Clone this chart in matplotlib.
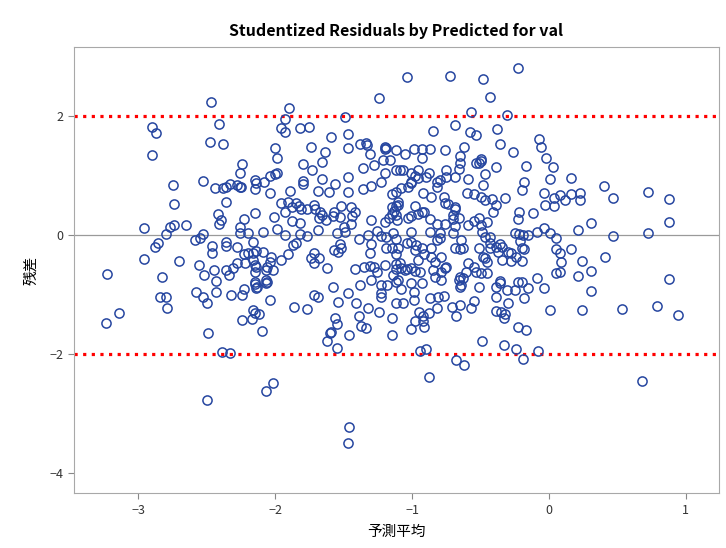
import matplotlib
matplotlib.use("Agg")
import matplotlib.pyplot as plt
import numpy as np

plt.rcParams['font.family'] = ['Noto Sans CJK JP', 'DejaVu Sans']

# predicted mean (x) and studentized residual (y), one entry per observation
predicted = [
    -2.47, -2.90, -2.87, -2.90, -2.41, -2.48, -2.38, -2.75, -2.53, -2.44, -2.38, -2.36, -2.33,
    -3.23, -3.24, -3.14, -2.96, -2.74, -2.77, -2.74, -2.80, -2.65, -2.86, -2.88, -2.96, -2.70,
    -2.83, -2.84, -2.80, -2.79, -2.59, -2.55, -2.53, -2.56, -2.52, -2.58, -2.53, -2.50, -2.49,
    -2.46, -2.46, -2.45, -2.43, -2.43, -2.32, -2.42, -2.40, -2.41, -2.36, -2.36, -2.36, -2.36,
    -2.34, -2.31, -2.28, -2.28,
    -2.39, -2.33, -2.50,
    -1.62, -1.55, -2.02, -2.07, -1.46, -1.47,
    -0.94, -0.90, -0.88, -0.68, -0.62, -0.49, -0.33, -0.24, -0.19, -0.08,
    0.68, 0.16, 0.40,
    0.08, 0.12, 0.16, 0.23, 0.23, 0.47, 0.72, 0.88, 0.88, 0.31, 0.21, 0.47, 0.72, 0.08, 0.16,
    0.09, 0.24, 0.41, 0.08, 0.21, 0.31, 0.31, 0.88, 0.24, 0.53, 0.79, 0.94,
    -1.24, -1.90, -1.49, -1.93, -1.96, -1.93, -1.82, -1.75, -1.59, -1.47, -1.74, -1.47, -2.00,
    -1.99, -1.64, -1.38, -1.34, -1.33, -1.31, -1.20, -1.20, -1.19, -1.12, -1.21, -1.16, -2.24,
    -2.26, -1.80, -1.66, -1.28, -1.36, -1.73, -1.12, -1.20, -2.04, -2.00, -1.99, -2.15, -2.14,
    -2.08, -1.80, -1.80, -1.66, -1.47, -1.56, -1.23, -1.30, -1.36, -2.28, -2.26, -2.25, -2.15,
    -1.89, -1.69, -1.61, -1.47, -1.15, -2.04,
    -1.96, -1.91, -1.88, -1.85, -1.83, -1.81, -1.77, -1.72, -1.71, -1.67, -1.66, -1.93, -2.01,
    -2.15, -2.23, -2.26, -2.26, -2.20, -2.09, -1.99, -1.88, -1.82, -1.93, -1.82, -1.77, -1.69,
    -1.68, -1.63, -1.58, -1.57, -1.53, -1.52, -1.45, -1.42, -1.44, -1.55, -1.50, -1.45, -1.49,
    -1.30, -1.20, -1.17, -1.15, -1.13, -1.15, -1.12, -1.39, -1.32, -1.26, -1.23, -1.19, -1.12,
    -1.14, -2.16, -2.23, -2.20, -2.16, -2.14, -2.09, -2.22, -2.16, -2.15, -2.14, -2.15, -2.03,
    -2.04, -2.06, -2.02, -2.07, -1.96, -1.91, -1.87, -1.85, -1.74, -1.72, -1.72, -1.68, -1.62,
    -1.57, -1.53, -1.54, -1.52, -1.42, -1.35, -1.31, -1.28, -1.26, -1.31, -1.30, -1.19, -1.15,
    -1.12, -1.20, -1.12, -1.12, -1.30, -1.23, -1.18, -1.23, -1.23, -1.12, -1.12, -1.38, -1.58,
    -1.47, -1.54, -1.41, -1.32, -1.24, -1.15, -1.39, -1.37, -1.34, -1.56, -1.55, -1.59, -1.60,
    -1.46, -1.15, -1.72, -1.69, -1.86, -1.77, -2.15, -2.14, -2.13, -2.15, -2.07, -2.07, -2.06,
    -2.23, -2.24, -2.04, -2.16, -2.15, -2.12, -2.24, -2.17, -2.10,
    -1.04, -0.72, -0.48, -0.23, -0.43, -0.57, -0.31, -0.85, -0.69, -0.58, -0.53, -0.38, -0.36,
    -0.62, -0.76, -0.87, -0.93, -0.93, -0.99, -1.05, -0.65, -0.65, -0.53, -0.50, -0.50, -0.51,
    -0.26, -0.07, -0.06, -0.02, 0.03, -0.17, -0.39, -0.47, -0.59, -0.48, -0.66, -0.69, -0.75,
    -0.75, -0.80, -0.82, -0.82, -0.88, -0.90, -0.96, -0.98, -0.96, -1.01, -1.01, -1.01, -1.03,
    -1.09, -1.07, -1.08, -0.18, 0.01,
    -1.12, -1.10, -1.10, -1.12, -0.92, -0.86, -0.77, -0.76, -0.74, -0.69, -0.69, -0.70, -0.60,
    -0.55, -0.50, -0.47, -0.42, -0.39, -0.41, -0.32, -0.20, -0.04, 0.04, 0.04, -0.03, -0.12,
    -0.22, -0.23, -0.98, -0.93, -0.91, -0.96, -1.01, -1.03, -1.11, -0.87, -0.82, -0.76, -0.69,
    -0.70, -0.66, -0.59, -0.55, -0.51, -0.50, -0.45, -1.01, -0.87, -0.80, -0.80, -0.82, -0.70,
    -0.49, -0.47, -0.43, -0.43, -0.25, -0.22, -0.19, -0.15, -0.21, -0.09, -0.04, 0.01, 0.05,
    -1.10, -1.04, -1.01, -0.97, -0.98, -0.93, -0.91, -0.86, -0.86, -0.83, -0.79, -0.75, -0.69,
    -0.65, -0.63, -0.64, -0.59, -0.55, -0.51, -0.48, -0.47, -0.45, -0.43, -0.39, -0.36, -0.37,
    -0.34, -0.30, -0.28, -0.34, -0.28, -0.24, -0.20, -0.20, -0.18, 0.05, 0.05, -1.09, -1.08,
    -1.05, -1.04, -1.01, -0.98, -0.96, -0.94, -0.85, -0.83, -0.79, -0.79, -0.76, -0.61, -0.65,
    -0.63, -0.66, -0.65, -0.64, -0.53, -0.50, -0.45, -0.51, -0.36, -0.36, -0.39, -0.31, -0.25,
    -0.23, -0.20, -0.15, -0.09, -0.04, -1.14, -1.10, -1.08, -1.01, -0.93, -1.07, -0.99, -0.99,
    -0.87, -0.81, -0.77, -0.71, -0.65, -0.68, -0.57, -0.55, -0.39, -0.30, -0.18, -0.39, -0.35,
    -0.32, -0.33, -0.82, -0.88, -0.92, -0.95, -0.98, -0.92, -0.91, -1.01, -0.23, -0.17, 0.01,
]
residual = [
    2.24, 1.82, 1.72, 1.35, 1.87, 1.57, 1.53, 0.84, 0.91, 0.79, 0.79, 0.81, 0.86,
    -0.66, -1.48, -1.31, 0.12, 0.52, 0.13, 0.17, 0.02, 0.17, -0.13, -0.20, -0.40, -0.44,
    -0.71, -1.04, -1.04, -1.23, -0.08, -0.05, 0.02, -0.51, -0.67, -0.96, -1.04, -1.14, -1.65,
    -0.19, -0.30, -0.59, -0.77, -0.96, -1.01, 0.35, 0.25, 0.19, 0.56, -0.12, -0.19, -0.59,
    -0.67, -0.56, -0.20, -0.47,
    -1.97, -1.99, -2.78,
    -1.78, -1.90, -2.49, -2.63, -3.23, -3.50,
    -1.95, -1.92, -2.39, -2.10, -2.19, -1.78, -1.84, -1.92, -2.09, -1.95,
    -2.46, 0.96, 0.82,
    0.67, 0.59, 0.69, 0.59, 0.71, 0.62, 0.72, 0.61, 0.22, 0.20, 0.08, -0.02, 0.03, -0.30, -0.24,
    -0.45, -0.44, -0.37, -0.62, -0.69, -0.61, -0.94, -0.74, -1.26, -1.25, -1.20, -1.35,
    2.31, 2.14, 1.99, 1.95, 1.80, 1.73, 1.80, 1.82, 1.65, 1.70, 1.48, 1.46, 1.46,
    1.30, 1.40, 1.53, 1.55, 1.52, 1.36, 1.48, 1.45, 1.46, 1.43, 1.26, 1.26, 1.20,
    1.04, 1.20, 1.23, 1.18, 1.13, 1.09, 1.09, 1.04, 0.99, 1.03, 1.04, 0.93, 0.88,
    0.89, 0.91, 0.86, 0.94, 0.98, 0.86, 0.89, 0.82, 0.77, 0.84, 0.81, 0.81, 0.77,
    0.74, 0.74, 0.72, 0.72, 0.69, 0.71,
    0.54, 0.56, 0.47, 0.54, 0.49, 0.44, 0.44, 0.51, 0.44, 0.39, 0.34, 0.39, 0.30,
    0.37, 0.27, 0.13, 0.03, 0.03, 0.05, 0.10, 0.24, 0.20, 0.00, 0.02, -0.02, 0.08,
    0.29, 0.25, 0.32, 0.39, 0.30, 0.49, 0.47, 0.39, 0.32, 0.03, 0.13, 0.19, 0.05,
    0.25, 0.22, 0.29, 0.35, 0.40, 0.47, 0.49, -0.07, 0.00, 0.07, -0.02, -0.03, -0.07,
    0.03, -0.12, -0.32, -0.30, -0.30, -0.27, -0.29, -0.47, -0.42, -0.51, -0.54, -0.62, -0.37,
    -0.45, -0.54, -0.59, -0.59, -0.42, -0.32, -0.17, -0.13, -0.39, -0.30, -0.47, -0.39, -0.56,
    -0.25, -0.15, -0.29, -0.22, -0.57, -0.54, -0.52, -0.54, -0.62, -0.30, -0.15, -0.22, -0.22,
    -0.32, -0.51, -0.49, -0.57, -0.76, -0.84, -0.84, -0.98, -1.04, -0.79, -1.14, -0.84, -0.88,
    -0.98, -1.13, -1.14, -1.23, -1.30, -1.40, -1.36, -1.53, -1.57, -1.40, -1.50, -1.63, -1.65,
    -1.68, -1.68, -1.01, -1.04, -1.21, -1.25, -0.79, -0.89, -0.88, -0.82, -0.76, -0.81, -0.79,
    -0.91, -1.01, -1.09, -1.26, -1.31, -1.33, -1.43, -1.41, -1.62,
    2.66, 2.68, 2.63, 2.81, 2.32, 2.07, 2.02, 1.75, 1.85, 1.73, 1.68, 1.78, 1.53,
    1.48, 1.43, 1.45, 1.45, 1.30, 1.45, 1.36, 1.33, 1.21, 1.21, 1.28, 1.25, 1.21,
    1.40, 1.62, 1.48, 1.30, 1.14, 1.16, 1.14, 1.03, 0.94, 0.84, 1.11, 0.98, 1.09,
    0.98, 0.93, 0.89, 0.81, 1.04, 0.98, 1.09, 0.99, 0.96, 1.04, 0.89, 0.88, 0.81,
    1.09, 1.09, 0.79, 0.89, 0.94,
    0.72, 0.56, 0.51, 0.34, 0.71, 0.64, 0.64, 0.54, 0.52, 0.47, 0.44, 0.34, 0.71,
    0.69, 0.64, 0.59, 0.61, 0.51, 0.39, 0.62, 0.76, 0.71, 0.62, 0.49, 0.51, 0.37,
    0.39, 0.27, 0.49, 0.39, 0.39, 0.35, 0.32, 0.29, 0.25, 0.27, 0.19, 0.19, 0.15,
    0.27, 0.29, 0.17, 0.24, 0.29, 0.17, 0.22, 0.05, 0.05, 0.03, -0.05, -0.08, 0.03,
    0.05, -0.03, -0.03, -0.13, 0.03, 0.02, 0.00, 0.00, -0.10, 0.05, 0.12, 0.03, -0.05,
    -0.22, -0.13, -0.12, -0.17, -0.25, -0.22, -0.32, -0.22, -0.37, -0.45, -0.37, -0.54, -0.22,
    -0.24, -0.22, -0.08, -0.47, -0.54, -0.22, -0.37, -0.39, -0.45, -0.22, -0.20, -0.15, -0.29,
    -0.20, -0.29, -0.30, -0.42, -0.44, -0.37, -0.44, -0.22, -0.24, -0.24, -0.64, -0.47, -0.56,
    -0.59, -0.57, -0.56, -0.61, -0.42, -0.62, -0.59, -0.71, -0.76, -0.62, -0.56, -0.62, -0.71,
    -0.72, -0.76, -0.88, -0.84, -0.62, -0.64, -0.64, -0.88, -0.77, -0.81, -0.88, -0.93, -0.93,
    -0.79, -0.79, -0.89, -0.72, -0.89, -0.67, -0.76, -0.91, -0.81, -0.81, -1.14, -0.96, -1.09,
    -1.06, -1.04, -1.03, -1.21, -1.18, -1.36, -1.23, -1.11, -1.04, -1.14, -1.06, -1.28, -1.30,
    -1.33, -1.40, -1.23, -1.31, -1.36, -1.30, -1.45, -1.45, -1.55, -1.58, -1.55, -1.60, -1.26,
]

x_ticks = [-3, -2, -1, 0, 1]
y_ticks = [-4, -2, 0, 2]
cutoff = 2

fig = plt.figure(figsize=(7.26, 5.48), dpi=100)
ax = fig.add_axes([0.102, 0.100, 0.888, 0.814])

ax.axhline(0, color='#9a9a9a', lw=0.9, zorder=1)
for level in (cutoff, -cutoff):
    ax.axhline(level, color='#ff0000', lw=2.3, linestyle=(0, (1, 1.7)),
               dash_capstyle='butt', zorder=2)

ax.plot(predicted, residual, 'o', mfc='none', mec='#2646a0', ms=6.6, mew=1.1,
        zorder=3)

ax.set_xlim(-3.47, 1.24)
ax.set_ylim(-4.34, 3.16)
ax.set_xticks(x_ticks)
ax.set_yticks(y_ticks)
ax.tick_params(colors='#333333', labelsize=9, length=4, color='#888888')

for s in ax.spines.values():
    s.set_color('#a8a8a8')

ax.set_title('Studentized Residuals by Predicted for val', fontsize=11.5,
             fontweight='bold', pad=8)
ax.set_xlabel('予測平均', fontsize=10.5, labelpad=6)
ax.set_ylabel('残差', fontsize=10.5, labelpad=8)

fig.savefig('out.png', dpi=100)
